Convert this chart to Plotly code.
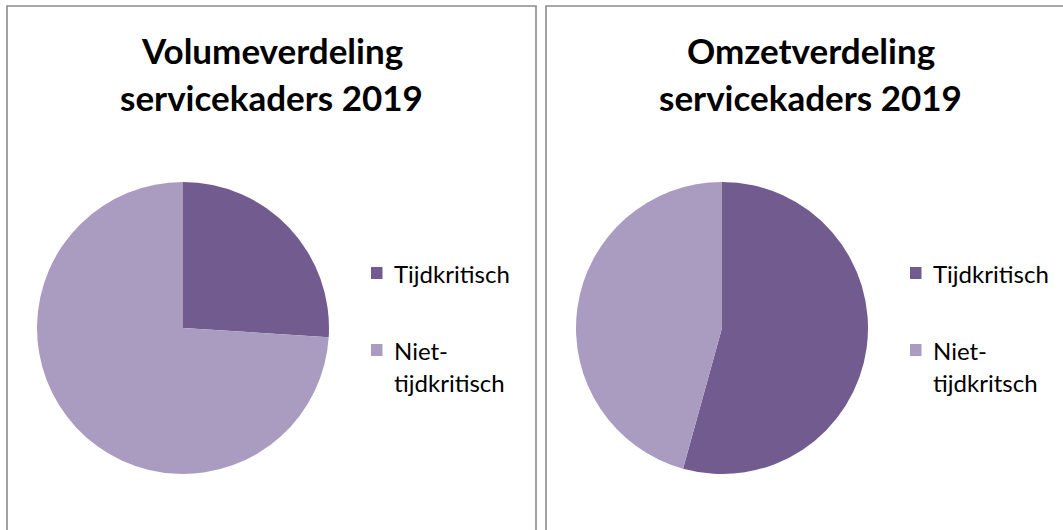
import plotly.graph_objects as go

W, H = 1063, 530

# ---- data ----
labels_volume = ["Tijdkritisch", "Niet-tijdkritisch"]
values_volume = [26, 74]
labels_omzet = ["Tijdkritisch", "Niet-tijdkritsch"]
values_omzet = [54.3, 45.7]
title_volume = ["Volumeverdeling", "servicekaders 2019"]
title_omzet = ["Omzetverdeling", "servicekaders 2019"]
colors = ["#725C8F", "#AA9CC0"]

FONT = "Lato"

def px_x(x):
    return x / W

def px_y(y):
    return 1 - y / H

fig = go.Figure()

panels = [
    dict(left=7, labels=labels_volume, values=values_volume, title=title_volume),
    dict(left=546, labels=labels_omzet, values=values_omzet, title=title_omzet),
]
PANEL_W = 529

shapes = []
annotations = []
for p in panels:
    L = p["left"]
    # panel border
    shapes.append(dict(type="rect", xref="paper", yref="paper",
                       x0=px_x(L), x1=px_x(L + PANEL_W), y0=px_y(560), y1=px_y(6),
                       line=dict(color="#8A8A8A", width=1.6), fillcolor="rgba(0,0,0,0)"))
    # pie
    cx, cy, r = L + 176, 328, 146
    fig.add_trace(go.Pie(
        labels=p["labels"], values=p["values"], sort=False, direction="clockwise",
        rotation=0, textinfo="none", hoverinfo="label+percent",
        marker=dict(colors=colors, line=dict(width=0)),
        domain=dict(x=[px_x(cx - r), px_x(cx + r)], y=[px_y(cy + r), px_y(cy - r)]),
        showlegend=False,
    ))
    # title lines
    tcx = L + PANEL_W / 2
    for i, line in enumerate(p["title"]):
        annotations.append(dict(text=line, x=px_x(tcx), y=px_y(50 + 47 * i),
                                xref="paper", yref="paper", xanchor="center", yanchor="middle",
                                showarrow=False,
                                font=dict(family=FONT, size=35, color="#000000", weight="bold")))
    # legend
    mx = L + 364
    item_y = [273, 350]
    for j, lab in enumerate(p["labels"]):
        y = item_y[j]
        shapes.append(dict(type="rect", xref="paper", yref="paper",
                           x0=px_x(mx), x1=px_x(mx + 11.5), y0=px_y(y + 6), y1=px_y(y - 6),
                           fillcolor=colors[j], line=dict(width=0)))
        parts = lab.split("-")
        lines = [parts[0] + "-", parts[1]] if len(parts) > 1 else [lab]
        for k, ln in enumerate(lines):
            annotations.append(dict(text=ln, x=px_x(mx + 21), y=px_y(y + 32 * k),
                                    xref="paper", yref="paper", xanchor="left", yanchor="middle",
                                    showarrow=False,
                                    font=dict(family=FONT, size=24, color="#000000")))

fig.update_layout(
    width=W, height=H,
    margin=dict(l=0, r=0, t=0, b=0),
    paper_bgcolor="white", plot_bgcolor="white",
    shapes=shapes, annotations=annotations,
    showlegend=False,
)

fig.write_html("out.html", config={"displayModeBar": False},
               post_script="document.body.style.margin='0';document.body.style.overflow='hidden';")
